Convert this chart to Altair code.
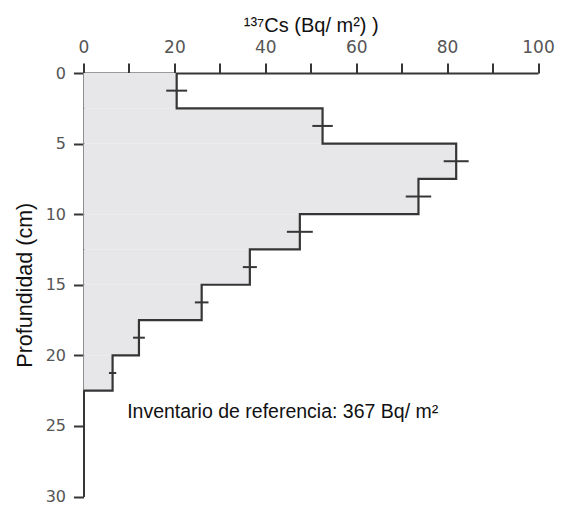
import altair as alt
import pandas as pd

# Data
depth_top = [0, 2.5, 5, 7.5, 10, 12.5, 15, 17.5, 20]
depth_bottom = [2.5, 5, 7.5, 10, 12.5, 15, 17.5, 20, 22.5]
cs137 = [20.5, 52.6, 82.0, 73.7, 47.6, 36.6, 26.0, 12.2, 6.4]
cs_err = [2.3, 2.25, 2.75, 2.8, 2.85, 1.55, 1.5, 1.3, 0.8]

x_ticks = [0, 10, 20, 30, 40, 50, 60, 70, 80, 90, 100]
y_ticks = [0, 5, 10, 15, 20, 25, 30]

annotation = "Inventario de referencia: 367 Bq/ m²"
annot_x = 9.6
annot_y = 24.45

x_title = "¹³⁷Cs (Bq/ m²)  )"
y_title = "Profundidad (cm)"

NARROW = "Liberation Sans, Arial, sans-serif"
LINE = "#363636"

# Tables built from the arrays
bars = pd.DataFrame({"top": depth_top, "bottom": depth_bottom, "v": cs137})

pts = []
k = 0
for t, b, v in zip(depth_top, depth_bottom, cs137):
    pts.append({"x": v, "y": t, "o": k}); k += 1
    pts.append({"x": v, "y": b, "o": k}); k += 1
pts.append({"x": 0, "y": depth_bottom[-1], "o": k})
line_df = pd.DataFrame(pts)

err_df = pd.DataFrame({
    "mid": [(t + b) / 2 for t, b in zip(depth_top, depth_bottom)],
    "lo": [v - e for v, e in zip(cs137, cs_err)],
    "hi": [v + e for v, e in zip(cs137, cs_err)],
})

xscale = alt.Scale(domain=[0, 100], nice=False, zero=True)
yscale = alt.Scale(domain=[0, 30], nice=False, reverse=True)

xaxis = alt.Axis(
    orient="top", values=x_ticks,
    labelExpr="datum.value % 20 == 0 ? datum.label : ''",
    labelFlush=False,
    title=x_title, titleFont=NARROW, titleFontSize=20, titleFontWeight="normal",
    titleColor="#111", titleY=-42, titleBaseline="alphabetic",
    labelFont="DejaVu Sans", labelFontSize=17, labelColor="#555",
    labelPadding=7, tickSize=10, tickColor=LINE, tickWidth=2,
    domainColor=LINE, domainWidth=2, grid=False,
)
yaxis = alt.Axis(
    values=y_ticks, title=y_title, titleFont=NARROW, titleFontSize=21.5,
    titleFontWeight="normal", titleColor="#111", titleX=-52,
    titleBaseline="alphabetic", labelFlush=False,
    labelFont="DejaVu Sans", labelFontSize=16, labelColor="#555",
    labelPadding=8, tickSize=10, tickColor=LINE, tickWidth=2,
    domainColor=LINE, domainWidth=2, grid=False,
)

fill = alt.Chart(bars).mark_rect(color="#e7e7ea").encode(
    x=alt.X("v:Q", scale=xscale, axis=xaxis),
    x2=alt.X2(datum=0),
    y=alt.Y("top:Q", scale=yscale, axis=yaxis),
    y2="bottom:Q",
)

profile = alt.Chart(line_df).mark_line(color=LINE, strokeWidth=2.2).encode(
    x=alt.X("x:Q", scale=xscale),
    y=alt.Y("y:Q", scale=yscale),
    order="o:Q",
)

errs = alt.Chart(err_df).mark_rule(color=LINE, strokeWidth=2).encode(
    x=alt.X("lo:Q", scale=xscale),
    x2="hi:Q",
    y=alt.Y("mid:Q", scale=yscale),
)

label = alt.Chart(pd.DataFrame({"t": [annotation], "x": [annot_x], "y": [annot_y]})).mark_text(
    align="left", baseline="alphabetic", font=NARROW, fontSize=19.5, color="#111"
).encode(
    x=alt.X("x:Q", scale=xscale),
    y=alt.Y("y:Q", scale=yscale),
    text="t:N",
)

chart = alt.layer(fill, profile, errs, label).properties(
    width=454.5, height=423.5,
    autosize=alt.AutoSizeParams(type="none"),
    padding={"left": 75.5, "top": 65, "right": 20, "bottom": 12},
).configure_view(stroke=None)

chart.save("out.html", embed_options={"renderer": "svg", "actions": False})
